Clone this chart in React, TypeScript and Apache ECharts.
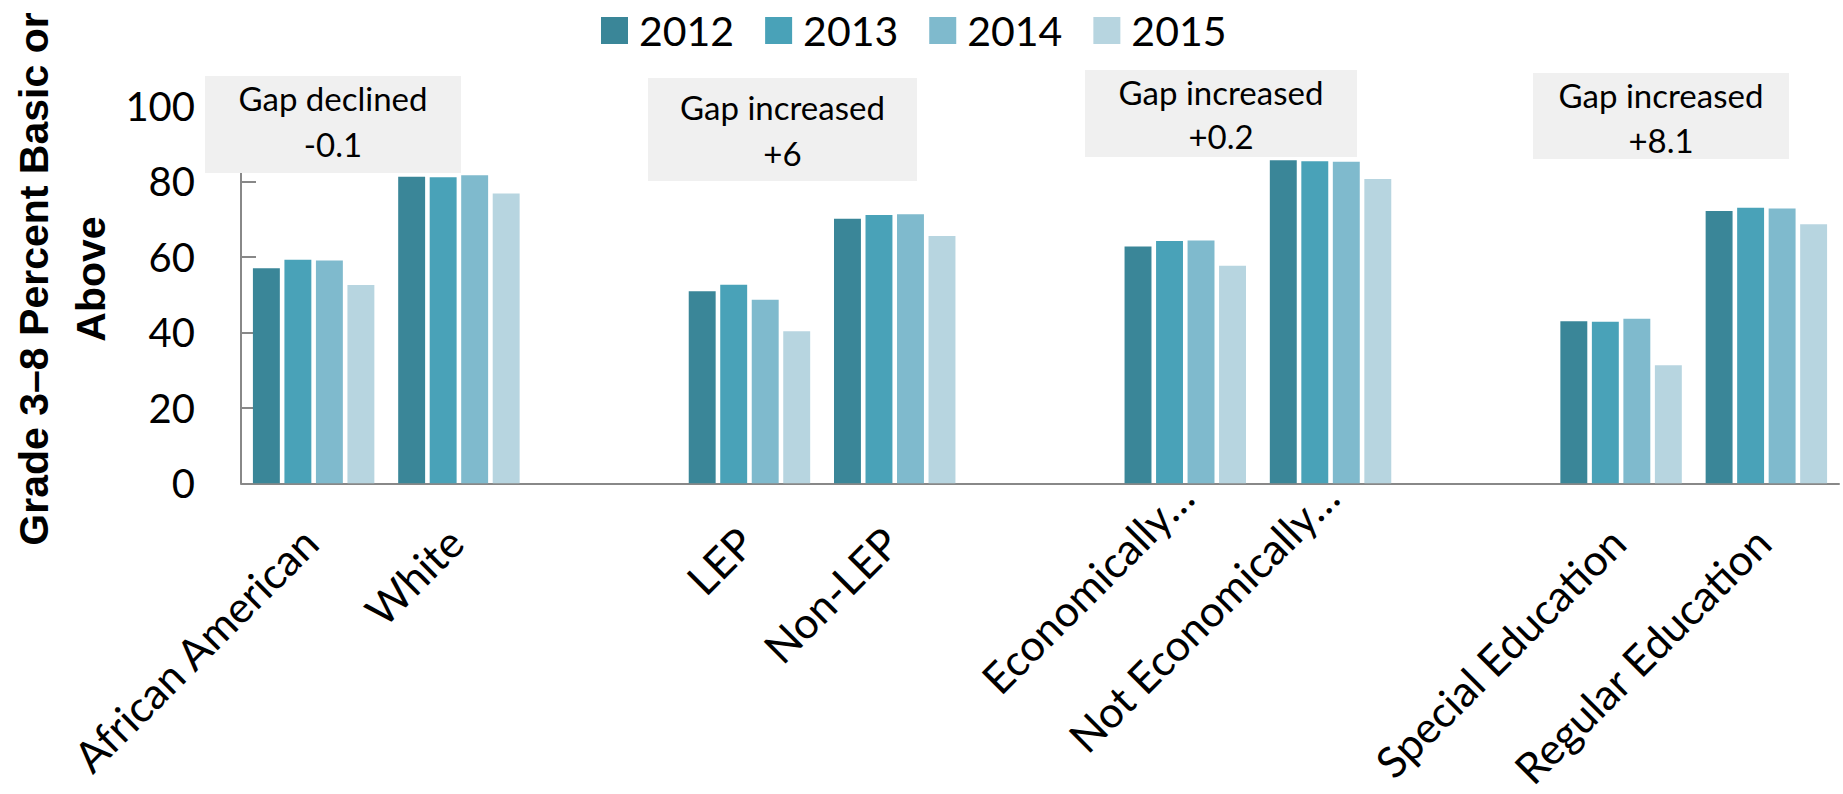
import React, { useEffect, useRef } from "react";
import * as echarts from "echarts";

const categories = [
  "African American",
  "White",
  "",
  "LEP",
  "Non-LEP",
  "",
  "Economically…",
  "Not Economically…",
  "",
  "Special Education",
  "Regular Education",
];
const truncatedLabels = ["Economically…", "Not Economically…"];
const years = ["2012", "2013", "2014", "2015"];
const v2012 = [57.0, 81.2, null, 50.9, 70.1, null, 62.7, 85.6, null, 42.9, 72.1];
const v2013 = [59.2, 81.1, null, 52.6, 71.1, null, 64.2, 85.3, null, 42.8, 73.0];
const v2014 = [59.0, 81.6, null, 48.6, 71.3, null, 64.3, 85.2, null, 43.6, 72.8];
const v2015 = [52.5, 76.8, null, 40.3, 65.5, null, 57.6, 80.6, null, 31.3, 68.6];
const seriesValues = [v2012, v2013, v2014, v2015];
const colors = ["#3a8698", "#49a2b8", "#7fbacd", "#b7d5e0"];
const yTicks = [0, 20, 40, 60, 80, 100];
const gapTitles = ["Gap declined", "Gap increased", "Gap increased", "Gap increased"];
const gapValues = ["-0.1", "+6", "+0.2", "+8.1"];
const yTitleLines = ["Grade 3\u20138 Percent Basic or", "Above"];

const FONT = "Lato, Carlito, Calibri, sans-serif";

// annotation box layout (pixels)
const boxes = [
  { x: 205, y: 76, w: 256, h: 97, l1: 98, l2: 144 },
  { x: 648, y: 78, w: 269, h: 103, l1: 107, l2: 153 },
  { x: 1085, y: 70, w: 272, h: 87, l1: 92, l2: 136 },
  { x: 1533, y: 73, w: 256, h: 86, l1: 95, l2: 140 },
];

export default function App() {
  const ref = useRef<HTMLDivElement>(null);

  useEffect(() => {
    if (!ref.current) return;
    const chart = echarts.init(ref.current, undefined, { renderer: "svg" });

    const graphics: any[] = [];
    boxes.forEach((b, i) => {
      graphics.push({
        type: "rect",
        z: 100,
        shape: { x: b.x, y: b.y, width: b.w, height: b.h },
        style: { fill: "#f0f0f0" },
      });
      graphics.push({
        type: "text",
        z: 101,
        x: b.x + b.w / 2,
        y: b.l1,
        style: {
          text: gapTitles[i],
          font: `33px ${FONT}`,
          fill: "#000",
          textAlign: "center",
          textVerticalAlign: "middle",
        },
      });
      graphics.push({
        type: "text",
        z: 101,
        x: b.x + b.w / 2,
        y: b.l2,
        style: {
          text: gapValues[i],
          font: `33px ${FONT}`,
          fill: "#000",
          textAlign: "center",
          textVerticalAlign: "middle",
        },
      });
    });
    graphics.push({
      type: "text",
      z: 101,
      x: 34,
      y: 279,
      rotation: Math.PI / 2,
      style: {
        text: yTitleLines[0],
        font: `bold 41px "Liberation Sans", Arial, sans-serif`,
        fill: "#000",
        textAlign: "center",
        textVerticalAlign: "middle",
      },
    });
    graphics.push({
      type: "text",
      z: 101,
      x: 91,
      y: 279,
      rotation: Math.PI / 2,
      style: {
        text: yTitleLines[1],
        font: `bold 41px "Liberation Sans", Arial, sans-serif`,
        fill: "#000",
        textAlign: "center",
        textVerticalAlign: "middle",
      },
    });

    const xData = categories.map((c) =>
      truncatedLabels.indexOf(c) >= 0
        ? { value: c, textStyle: { padding: [8, 0, 0, 0] } }
        : c
    );

    chart.setOption({
      animation: false,
      color: colors,
      legend: {
        data: years,
        top: 5,
        left: 596,
        icon: "rect",
        itemWidth: 27,
        itemHeight: 27,
        itemGap: 31,
        textStyle: {
          fontSize: 41,
          fontFamily: FONT,
          color: "#000",
          lineHeight: 41,
          padding: [0, 0, 0, 6],
        },
      },
      grid: {
        left: 241,
        right: 4,
        top: 105.8,
        bottom: 310.7,
        containLabel: false,
        outerBoundsMode: "none",
      },
      xAxis: {
        type: "category",
        data: xData,
        axisLine: { show: true, lineStyle: { color: "#888888", width: 2 } },
        axisTick: { show: false },
        axisLabel: {
          interval: 0,
          rotate: 45,
          align: "right",
          verticalAlign: "top",
          margin: 6,
          fontSize: 43,
          lineHeight: 43,
          padding: [8, 35, 0, 0],
          fontFamily: FONT,
          color: "#000",
        },
      },
      yAxis: {
        type: "value",
        min: yTicks[0],
        max: yTicks[yTicks.length - 1],
        interval: 20,
        axisLine: { show: true, lineStyle: { color: "#888888", width: 2 } },
        axisTick: { show: true, inside: true, length: 15, lineStyle: { color: "#888888", width: 2 } },
        splitLine: { show: false },
        axisLabel: { fontSize: 40, fontFamily: FONT, color: "#000", margin: 46 },
      },
      series: years.map((y, i) => ({
        name: y,
        type: "bar",
        data: seriesValues[i],
        barCategoryGap: "16.4%",
        barGap: "17%",
        itemStyle: { color: colors[i] },
      })),
      graphic: graphics,
    });

    return () => chart.dispose();
  }, []);

  return (
    <div
      ref={ref}
      style={{ position: "fixed", left: 0, top: 0, width: 1843, height: 794, background: "#fff" }}
    />
  );
}
